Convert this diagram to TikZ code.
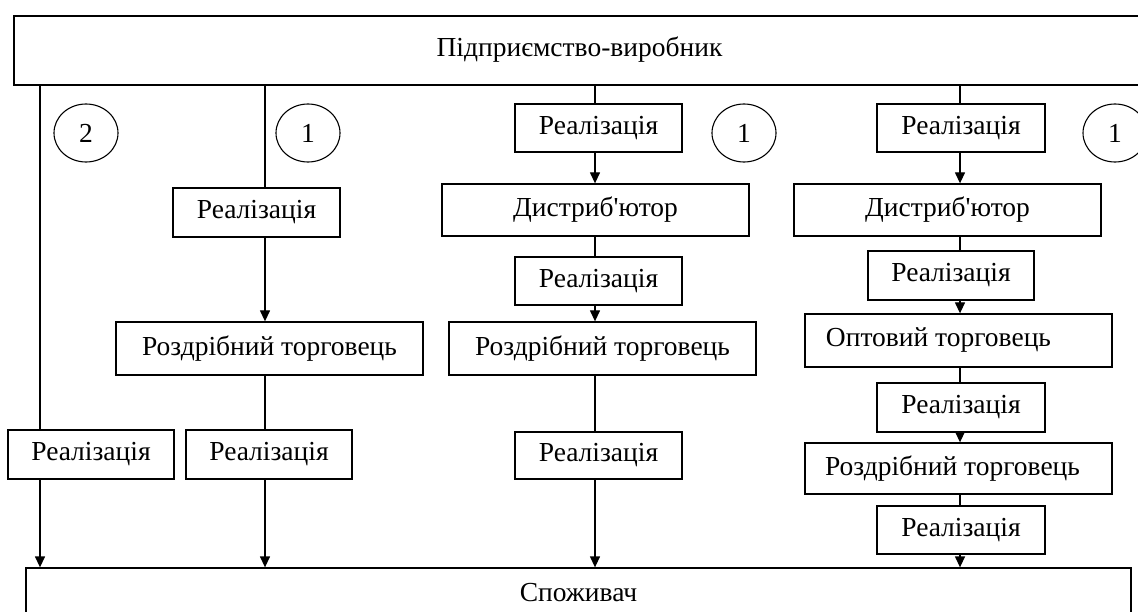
\documentclass[tikz,border=0pt]{standalone}
\usepackage{fontspec}
\setmainfont{Liberation Serif}[Ligatures=TeXOff]
\usetikzlibrary{arrows.meta,shapes.geometric}
\begin{document}
\begin{tikzpicture}[x=1pt,y=-1pt,
  font=\fontsize{27.5}{31}\selectfont,
  box/.style={draw, line width=1.3pt, inner sep=0pt, align=center},
  rl/.style={box, minimum width=167pt, minimum height=48pt},
  wide/.style={box, minimum width=307pt, minimum height=52pt},
  num/.style={draw, ellipse, line width=1.1pt, minimum width=64pt, minimum height=58pt, inner sep=0pt},
  ln/.style={line width=1.3pt},
  arr/.style={line width=1.3pt, -{Triangle[width=10pt,length=11pt]}}]
\useasboundingbox (0,0) rectangle (1138,612);
\fill[white] (0,0) rectangle (1138,612);
% main boxes
\node[box, minimum width=1131pt, minimum height=69pt] (top) at (579.5,50.5) {\raisebox{8pt}{Підприємство-виробник}};
\node[box, minimum width=1105pt, minimum height=54pt] (bot) at (578.5,595) {\raisebox{5pt}{Споживач}};
% column x positions
\coordinate (x1) at (40,0);
\coordinate (x2) at (265,0);
\coordinate (x3) at (595,0);
\coordinate (x4) at (960,0);
% circles
\node[num] (c2) at (86,133) {2};
\node[num] (c1a) at (308,133) {1};
\node[num] (c1b) at (744,133) {1};
\node[num] (c1c) at (1115,133) {1};
% column 1
\node[rl, minimum width=166pt, minimum height=49pt] (L1) at (91,454.5) {Реалізація};
% column 2
\node[rl, minimum height=49pt] (R2a) at (256.5,212.5) {Реалізація};
\node[wide, minimum height=53pt] (RT2) at (269.5,348.5) {Роздрібний торговець};
\node[rl, minimum width=166pt, minimum height=49pt] (R2b) at (269,454.5) {Реалізація};
% column 3
\node[rl] (R3a) at (598.5,128) {Реалізація};
\node[wide] (D3) at (595.5,210) {Дистриб'ютор};
\node[rl] (R3b) at (598.5,281) {Реалізація};
\node[wide, minimum height=53pt] (RT3) at (602.5,348.5) {Роздрібний торговець};
\node[rl, minimum height=47pt] (R3c) at (598.5,455.5) {Реалізація};
% column 4
\node[rl, minimum width=168pt] (R4a) at (961,128) {Реалізація};
\node[wide] (D4) at (947.5,210) {Дистриб'ютор};
\node[rl, minimum width=166pt, minimum height=49pt] (R4b) at (951,275.5) {Реалізація};
\node[wide, minimum height=53pt] (O4) at (958.5,340.5) {\hspace*{-40pt}Оптовий торговець};
\node[rl, minimum width=168pt, minimum height=49pt] (R4c) at (961,407.5) {Реалізація};
\node[wide, minimum height=51pt] (RT4) at (958.5,468.5) {\hspace*{-12pt}Роздрібний торговець};
\node[rl, minimum width=168pt] (R4d) at (961,530) {Реалізація};
% connectors column 1
\draw[ln] (top.south -| x1) -- (L1.north -| x1);
\draw[arr] (L1.south -| x1) -- (bot.north -| x1);
% column 2
\draw[ln] (top.south -| x2) -- (R2a.north -| x2);
\draw[arr] (R2a.south -| x2) -- (RT2.north -| x2);
\draw[ln] (RT2.south -| x2) -- (R2b.north -| x2);
\draw[arr] (R2b.south -| x2) -- (bot.north -| x2);
% column 3
\draw[ln] (top.south -| x3) -- (R3a.north -| x3);
\draw[arr] (R3a.south -| x3) -- (D3.north -| x3);
\draw[ln] (D3.south -| x3) -- (R3b.north -| x3);
\draw[arr] (R3b.south -| x3) -- (RT3.north -| x3);
\draw[ln] (RT3.south -| x3) -- (R3c.north -| x3);
\draw[arr] (R3c.south -| x3) -- (bot.north -| x3);
% column 4
\draw[ln] (top.south -| x4) -- (R4a.north -| x4);
\draw[arr] (R4a.south -| x4) -- (D4.north -| x4);
\draw[ln] (D4.south -| x4) -- (R4b.north -| x4);
\draw[arr] (R4b.south -| x4) -- (O4.north -| x4);
\draw[ln] (O4.south -| x4) -- (R4c.north -| x4);
\draw[arr] (R4c.south -| x4) -- (RT4.north -| x4);
\draw[ln] (RT4.south -| x4) -- (R4d.north -| x4);
\draw[arr] (R4d.south -| x4) -- (bot.north -| x4);
\end{tikzpicture}
\end{document}
